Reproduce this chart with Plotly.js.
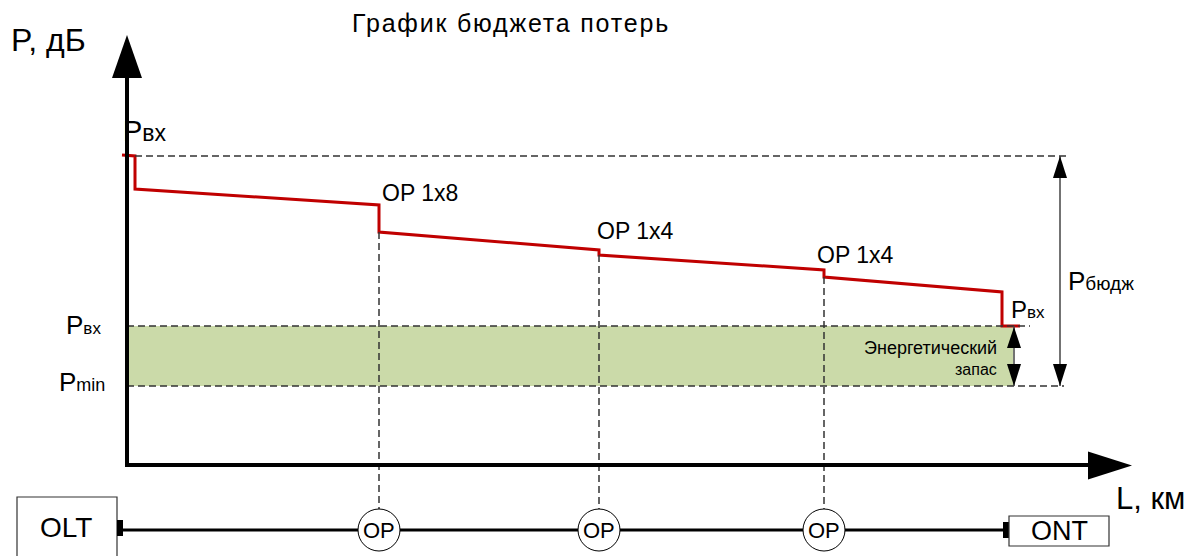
<!DOCTYPE html>
<html><head><meta charset="utf-8">
<script src="https://cdn.plot.ly/plotly-3.0.1.min.js"></script>
<style>html,body{margin:0;padding:0;background:#fff;} .gtitle{letter-spacing:1.8px;}</style>
</head><body>
<div id="chart" style="width:1189px;height:556px;"></div>
<script>
// ---- Data (schematic loss budget: L in km, P in dB) ----
const lossL = [-0.2, 0.32, 0.32, 10.08, 10.08, 18.88, 18.88, 27.88, 27.88, 35.0, 35.0, 35.72];
const lossP = [31.0, 30.9, 27.6, 26.0, 23.3, 21.5, 21.0, 19.5, 18.8, 17.3, 13.9, 13.9];
const splitterL = [10.08, 18.88, 27.88];
const splitterBottomP = [23.3, 21.0, 18.8];
const splitterLabels = ['OP 1x8', 'OP 1x4', 'OP 1x4'];
const nodeLabels = ['OP', 'OP', 'OP'];
const pStart = 30.9;
const pRx = 13.9;
const pMin = 7.9;

// ---- pixel helpers for decorations ----
const X0 = 127, Y0 = 465, SX = 25, SY = 10;
const dx = px => (px - X0) / SX;
const dy = py => (Y0 - py) / SY;
const FONT = 'Liberation Sans, Arial, sans-serif';

function tri(tx, ty, dir, hw, len) {
  let pts;
  if (dir === 'up') pts = [[tx, ty], [tx - hw, ty + len], [tx + hw, ty + len]];
  if (dir === 'down') pts = [[tx, ty], [tx - hw, ty - len], [tx + hw, ty - len]];
  if (dir === 'right') pts = [[tx, ty], [tx - len, ty - hw], [tx - len, ty + hw]];
  return {
    type: 'path', xref: 'x', yref: 'y',
    path: 'M' + pts.map(p => dx(p[0]) + ',' + dy(p[1])).join(' L') + ' Z',
    fillcolor: '#000', line: {color: '#000', width: 0}
  };
}
function hline(y, x0, x1, color, width, dash) {
  return {type: 'line', xref: 'x', yref: 'y', x0: x0, x1: x1, y0: y, y1: y,
    line: {color: color, width: width, dash: dash || 'solid'}};
}
function vline(x, y0, y1, color, width, dash) {
  return {type: 'line', xref: 'x', yref: 'y', x0: x, x1: x, y0: y0, y1: y1,
    line: {color: color, width: width, dash: dash || 'solid'}};
}
function rect(px0, py0, px1, py1, fill, lc, lw) {
  return {type: 'rect', xref: 'x', yref: 'y', x0: dx(px0), x1: dx(px1), y0: dy(py1), y1: dy(py0),
    fillcolor: fill, line: {color: lc, width: lw}};
}

const DASH = '7px,4px';
const DC = '#333';
const shapes = [];
// green energy reserve band
shapes.push({type: 'rect', xref: 'x', yref: 'y', layer: 'below', x0: 0, x1: dx(1013), y0: pMin, y1: pRx,
  fillcolor: '#cbdaa9', line: {width: 0}});
// dashed reference lines
shapes.push(hline(pStart, dx(135), dx(1070), DC, 1.5, DASH));
shapes.push(hline(pRx, 0, dx(1030), DC, 1.5, DASH));
shapes.push(hline(pMin, 0, dx(1064), DC, 1.5, DASH));
// vertical dashed from splitters to nodes
splitterL.forEach((l, i) => shapes.push(vline(l, splitterBottomP[i], dy(509), DC, 1.5, DASH)));
// axes
shapes.push(vline(0, dy(467), dy(76), '#000', 4));
shapes.push(tri(127, 35, 'up', 15, 43));
shapes.push(hline(0, dx(125), dx(1090), '#000', 4));
shapes.push(tri(1132, 465.5, 'right', 14, 44));
// P budget arrow
shapes.push(vline(dx(1060), pStart, pMin, '#444', 1.5));
shapes.push(tri(1060, 156, 'up', 7, 22));
shapes.push(tri(1060, 386, 'down', 7, 22));
// energy reserve arrow
shapes.push(vline(dx(1014), pRx, pMin, '#444', 1.5));
shapes.push(tri(1014, 327, 'up', 7, 21));
shapes.push(tri(1014, 386, 'down', 7, 22));
// bottom schematic
shapes.push(hline(dy(530), dx(123), dx(1003), '#000', 3));
shapes.push(rect(17, 497, 117, 560, '#fff', '#333', 1.2));
shapes.push(rect(117, 520, 123, 536, '#000', '#000', 0));
shapes.push(rect(1003, 522, 1009, 538, '#000', '#000', 0));
shapes.push(rect(1009, 516, 1109, 546, '#fff', '#333', 1.2));
splitterL.forEach(l => shapes.push({type: 'circle', xref: 'x', yref: 'y',
  x0: l - 21 / SX, x1: l + 21 / SX, y0: dy(530) - 21 / SY, y1: dy(530) + 21 / SY,
  fillcolor: '#fff', line: {color: '#000', width: 1}}));

function ann(text, px, py, size, xanchor, extra) {
  return Object.assign({text: text, x: dx(px), y: dy(py), xref: 'x', yref: 'y',
    xanchor: xanchor || 'left', yanchor: 'middle', showarrow: false,
    font: {family: FONT, size: size, color: '#000'}}, extra || {});
}
const sub = (main, s, sz) => main + '<span style="font-size:' + sz + 'px">' + s + '</span>';

const annotations = [
  ann('P, дБ', 9, 40, 32),
  ann('L, км', 1114, 498, 31),
  ann(sub('P', 'вх', 23), 121, 131, 29),
  ann(sub('P', 'вх', 17), 64, 325, 26),
  ann(sub('P', 'min', 18), 57, 382, 26),
  ann(sub('P', 'вх', 17), 1009, 309, 24),
  ann(sub('P', 'бюдж', 19), 1066, 281, 26),
  ann('Энергетический', 999, 348, 18, 'right'),
  ann('запас', 999, 369, 16, 'right'),
  ann('OLT', 66, 527, 28, 'center'),
  ann('ONT', 1059, 531, 27, 'center')
];
splitterL.forEach((t, i) => {
  const pos = [[380, 193], [595, 231], [815, 255]][i];
  annotations.push(ann(splitterLabels[i], pos[0], pos[1], 23));
});
splitterL.forEach((l, i) => annotations.push({text: nodeLabels[i], x: l, y: dy(530), xref: 'x', yref: 'y',
  xanchor: 'center', yanchor: 'middle', showarrow: false, font: {family: FONT, size: 22, color: '#000'}}));

const traces = [{
  x: lossL, y: lossP, type: 'scatter', mode: 'lines',
  line: {color: '#c00000', width: 3}, hoverinfo: 'skip', showlegend: false
}];

const layout = {
  width: 1189, height: 556,
  margin: {l: 0, r: 0, t: 0, b: 0},
  paper_bgcolor: '#fff', plot_bgcolor: '#fff',
  title: {text: 'График бюджета потерь', x: 511 / 1189, y: 1 - 23 / 556, xanchor: 'center', yanchor: 'middle',
    font: {family: FONT, size: 25, color: '#000'}},
  xaxis: {range: [dx(0), dx(1189)], visible: false, fixedrange: true},
  yaxis: {range: [dy(556), dy(0)], visible: false, fixedrange: true},
  shapes: shapes, annotations: annotations, showlegend: false
};
Plotly.newPlot('chart', traces, layout, {displayModeBar: false, staticPlot: true});
</script>
</body></html>
